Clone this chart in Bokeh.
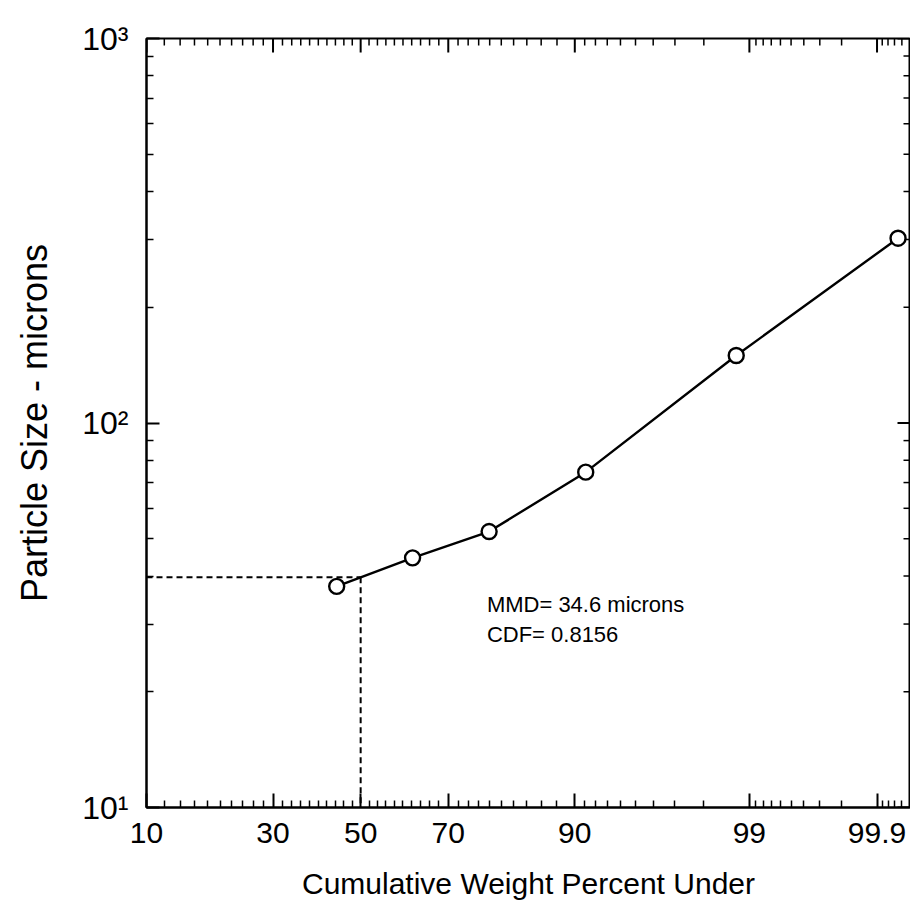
from statistics import NormalDist
import numpy as np
from bokeh.plotting import figure
from bokeh.models import FixedTicker, ColumnDataSource
from bokeh.core.properties import value
from bokeh.embed import file_html
from bokeh.resources import INLINE

# ---- data ----
cum_pct = [44.3, 62.2, 77.9, 91.1, 98.77, 99.935]          # cumulative weight percent under
size_um = [37.6, 44.6, 52.2, 74.5, 149.8, 302.4]           # particle size, microns
x_tick_pct = [10, 30, 50, 70, 90, 99, 99.9]
x_tick_labels = ["10", "30", "50", "70", "90", "99", "99.9"]
x_minor_pct = ([v for v in range(12, 90, 2) if v not in (30, 50, 70)]
               + [91, 92, 93, 94, 95, 96, 97, 98]
               + [99.1, 99.2, 99.3, 99.4, 99.5, 99.6, 99.7, 99.8]
               + [99.91, 99.92, 99.93, 99.94])
x_limits_pct = [10, 99.95]
y_limits = [10, 1000]
y_ticks = [10, 100, 1000]
y_tick_labels = ["10\u00b9", "10\u00b2", "10\u00b3"]
y_minor = [m * d for d in (10, 100) for m in range(2, 10)]
median_pct = 50
annot_lines = ["MMD= 34.6 microns", "CDF= 0.8156"]
annot_pct = 77.5
annot_size = [33.7, 28.2]

ND = NormalDist()
def probit(pct):
    return ND.inv_cdf(pct / 100.0)

xs = [probit(v) for v in cum_pct]
xt = [probit(v) for v in x_tick_pct]
xm = [probit(v) for v in x_minor_pct]
x_lo, x_hi = probit(x_limits_pct[0]), probit(x_limits_pct[1])

# median size where the curve crosses 50 %
mmd_y = 10 ** np.interp(probit(median_pct), np.array(xs), np.log10(size_um))

FONT = "Liberation Sans"
MAJ_X, MIN_X, MAJ_Y, MIN_Y = 14, 7, 13, 7

p = figure(width=910, height=910, output_backend="svg", toolbar_location=None,
           y_axis_type="log", x_range=(x_lo, x_hi), y_range=tuple(y_limits),
           min_border_left=146, min_border_top=38, min_border_right=0,
           min_border_bottom=103)
p.grid.visible = False
p.background_fill_color = "white"
p.border_fill_color = "white"
p.outline_line_color = "black"
p.outline_line_width = 2

def style_axis(ax):
    ax.axis_line_color = "black"
    ax.axis_line_width = 2
    ax.major_tick_line_color = "black"
    ax.minor_tick_line_color = "black"
    ax.major_tick_line_width = 2
    ax.minor_tick_line_width = 1.5
    ax.major_tick_out = 0
    ax.minor_tick_out = 0
    ax.major_label_text_color = "black"
    ax.axis_label_text_color = "black"
    ax.major_label_text_font = FONT
    ax.axis_label_text_font = FONT
    ax.axis_label_text_font_style = "normal"

xa = p.xaxis[0]
xa.ticker = FixedTicker(ticks=xt, minor_ticks=xm)
xa.major_label_overrides = {t: l for t, l in zip(xt, x_tick_labels)}
style_axis(xa)
xa.major_tick_in = MAJ_X
xa.minor_tick_in = MIN_X
xa.major_label_text_font_size = "30px"
xa.major_label_standoff = 15
xa.axis_label = "Cumulative Weight Percent Under"
xa.axis_label_text_font_size = "30px"
xa.axis_label_standoff = 21

ya = p.yaxis[0]
ya.ticker = FixedTicker(ticks=y_ticks, minor_ticks=y_minor)
ya.major_label_overrides = {t: l for t, l in zip(y_ticks, y_tick_labels)}
style_axis(ya)
ya.major_tick_in = MAJ_Y
ya.minor_tick_in = MIN_Y
ya.major_label_text_font_size = "32px"
ya.major_label_standoff = 18
ya.axis_label = "Particle Size - microns"
ya.axis_label_text_font_size = "36px"
ya.axis_label_standoff = 24

# mirrored inward ticks on the top and right edges
top_y = y_limits[1]
p.ray(x=xt, y=[top_y] * len(xt), length=MAJ_X, angle=-np.pi / 2,
      length_units="screen", line_color="black", line_width=2)
p.ray(x=xm, y=[top_y] * len(xm), length=MIN_X, angle=-np.pi / 2,
      length_units="screen", line_color="black", line_width=1.5)
p.ray(x=[x_hi] * len(y_ticks), y=y_ticks, length=MAJ_Y, angle=np.pi,
      length_units="screen", line_color="black", line_width=2)
p.ray(x=[x_hi] * len(y_minor), y=y_minor, length=MIN_Y, angle=np.pi,
      length_units="screen", line_color="black", line_width=1.5)

# dashed median guide lines
z50 = probit(median_pct)
p.line([x_lo, z50], [mmd_y, mmd_y], line_color="black", line_width=2, line_dash="6 4")
p.line([z50, z50], [mmd_y, y_limits[0]], line_color="black", line_width=2, line_dash="6 4")

src = ColumnDataSource(dict(x=xs, y=size_um))
p.line("x", "y", source=src, line_color="black", line_width=2.4)
p.scatter("x", "y", source=src, marker="circle", size=15, fill_color="white",
          line_color="black", line_width=2.4)

p.text(x=[probit(annot_pct)] * 2, y=annot_size, text=annot_lines,
       text_font=value(FONT), text_font_size="22px", text_baseline="middle",
       text_align="left", text_color="black")

open("out.html", "w").write(file_html(p, INLINE))
